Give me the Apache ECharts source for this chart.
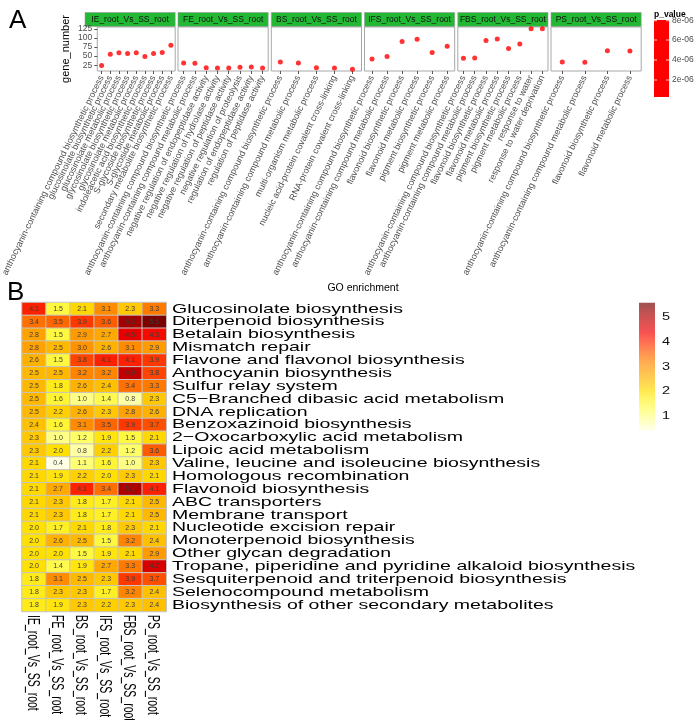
<!DOCTYPE html>
<html><head><meta charset="utf-8">
<script src="https://cdn.jsdelivr.net/npm/echarts@6/dist/echarts.min.js"></script>
<style>html,body{margin:0;padding:0;background:#fff}#c{width:696px;height:720px}</style>
</head><body><div id="c"></div>
<script>
// ---------- Panel A data ----------
const panelNames = ['IE_root_Vs_SS_root','FE_root_Vs_SS_root','BS_root_Vs_SS_root','IFS_root_Vs_SS_root','FBS_root_Vs_SS_root','PS_root_Vs_SS_root'];
const ieTerms = ['anthocyanin-containing compound biosynthetic process','glucosinolate biosynthetic process','glucosinolate metabolic process','glycosinolate biosynthetic process','glycosinolate metabolic process','indoleacetic acid biosynthetic process','S-glycoside biosynthetic process','S-glycoside metabolic process','secondary metabolite biosynthetic process'];
const ieGenes = [24, 55, 59, 57, 59, 49, 57, 60, 80];
const feTerms = ['anthocyanin-containing compound biosynthetic process','anthocyanin-containing compound metabolic process','negative regulation of endopeptidase activity','negative regulation of hydrolase activity','negative regulation of peptidase activity','negative regulation of proteolysis','regulation of endopeptidase activity','regulation of peptidase activity'];
const feGenes = [31, 30, 18, 17, 17, 19, 20, 17];
const bsTerms = ['anthocyanin-containing compound biosynthetic process','anthocyanin-containing compound metabolic process','multi-organism metabolic process','nucleic acid-protein covalent cross-linking','RNA-protein covalent cross-linking'];
const bsGenes = [34, 31, 18, 17, 14];
const ifsTerms = ['anthocyanin-containing compound biosynthetic process','anthocyanin-containing compound metabolic process','flavonoid biosynthetic process','flavonoid metabolic process','pigment biosynthetic process','pigment metabolic process'];
const ifsGenes = [42, 49, 90, 96, 60, 77];
const fbsTerms = ['anthocyanin-containing compound biosynthetic process','anthocyanin-containing compound metabolic process','flavonoid biosynthetic process','flavonoid metabolic process','pigment biosynthetic process','pigment metabolic process','response to water','response to water deprivation'];
const fbsGenes = [44, 45, 93, 97, 71, 83, 125, 125];
const psTerms = ['anthocyanin-containing compound biosynthetic process','anthocyanin-containing compound metabolic process','flavonoid biosynthetic process','flavonoid metabolic process'];
const psGenes = [34, 33, 65, 64];
const geneTicks = [25, 50, 75, 100, 125];
const pTickLabels = ['8e-06','6e-06','4e-06','2e-06'];

// ---------- Panel B data ----------
const heatRows = ['Glucosinolate biosynthesis','Diterpenoid biosynthesis','Betalain biosynthesis','Mismatch repair','Flavone and flavonol biosynthesis','Anthocyanin biosynthesis','Sulfur relay system','C5\u2212Branched dibasic acid metabolism','DNA replication','Benzoxazinoid biosynthesis','2\u2212Oxocarboxylic acid metabolism','Lipoic acid metabolism','Valine, leucine and isoleucine biosynthesis','Homologous recombination','Flavonoid biosynthesis','ABC transporters','Membrane transport','Nucleotide excision repair','Monoterpenoid biosynthesis','Other glycan degradation','Tropane, piperidine and pyridine alkaloid biosynthesis','Sesquiterpenoid and triterpenoid biosynthesis','Selenocompound metabolism','Biosynthesis of other secondary metabolites'];
const ieScores  = [4.1,3.4,2.8,2.8,2.6,2.5,2.5,2.5,2.5,2.4,2.3,2.3,2.1,2.1,2.1,2.1,2.1,2.0,2.0,2.0,2.0,1.8,1.8,1.8];
const feScores  = [1.5,3.5,1.5,2.5,1.5,2.5,1.8,1.6,2.2,1.6,1.0,2.0,0.4,1.9,2.7,2.3,2.3,1.7,2.6,2.0,1.4,3.1,2.3,1.9];
const bsScores  = [2.1,3.9,2.9,3.0,3.8,3.2,2.6,1.0,2.6,3.1,1.2,0.8,1.1,2.2,4.1,1.8,1.8,2.1,2.5,1.5,1.9,2.5,2.3,2.3];
const ifsScores = [3.1,3.6,2.7,2.6,4.1,3.2,2.4,1.4,2.3,3.5,1.9,2.2,1.6,2.0,3.4,1.7,1.7,1.8,1.5,1.9,2.7,2.3,1.7,2.2];
const fbsScores = [2.3,5.2,4.5,3.1,4.1,4.9,3.4,0.8,2.8,3.9,1.5,1.2,1.0,2.3,5.1,2.1,2.1,2.3,3.2,2.1,3.3,3.9,3.2,2.3];
const psScores  = [3.3,5.5,4.3,2.9,3.9,3.8,3.3,2.3,2.6,3.7,2.1,3.6,2.3,2.1,4.1,2.5,2.5,2.1,2.4,2.9,4.7,3.7,2.4,2.4];
const scaleTicks = [1, 2, 3, 4, 5];

// ---------- build ----------
const FONT = '"Liberation Sans", Arial, Helvetica, sans-serif';
const termsA = [ieTerms, feTerms, bsTerms, ifsTerms, fbsTerms, psTerms];
const genesA = [ieGenes, feGenes, bsGenes, ifsGenes, fbsGenes, psGenes];
const scoresB = [ieScores, feScores, bsScores, ifsScores, fbsScores, psScores];
const gLeft = [85, 178, 271.3, 364.5, 457.8, 551];
const gW = 90.2, gTop = 27, gH = 44;
const heatColors = ['#FFFFE6','#FFFFA6','#FFFF66','#FFF533','#FFE000','#FFC000','#FFA200','#FF8500','#FF5C00','#FF2C00','#F20000','#CC0000','#A30000','#6E0000'];
const vMin = 0.4, vMax = 5.6;

const grids = [], xAxes = [], yAxes = [], series = [];
for (let i = 0; i < 6; i++) {
  grids.push({left: gLeft[i], top: gTop, width: gW, height: gH, show: true, borderColor: '#a8a8a8', borderWidth: 1, backgroundColor: '#fff'});
  xAxes.push({gridIndex: i, type: 'category', data: termsA[i],
    axisLine: {show: false}, splitLine: {show: false},
    axisTick: {show: true, alignWithLabel: true, length: 3, lineStyle: {color: '#555'}},
    axisLabel: {rotate: 64, fontSize: 9, color: '#4d4d4d', interval: 0, margin: 5, fontFamily: FONT}});
  yAxes.push({gridIndex: i, type: 'value', min: 9, max: 130,
    axisLine: {show: false}, splitLine: {show: false},
    axisTick: {show: i === 0, length: 3, lineStyle: {color: '#555'}, customValues: geneTicks},
    axisLabel: {show: i === 0, fontSize: 8.5, color: '#4d4d4d', margin: 5, fontFamily: FONT, customValues: geneTicks},
    name: i === 0 ? 'gene_number' : '', nameLocation: 'middle', nameGap: 26, nameRotate: 90,
    nameTextStyle: {fontSize: 11, color: '#000', fontFamily: FONT}});
  series.push({type: 'scatter', xAxisIndex: i, yAxisIndex: i, data: genesA[i], symbolSize: 5,
    itemStyle: {color: '#ff0000'}, silent: true});
}
// heatmap grid
grids.push({left: 22, top: 302.5, width: 144.3, height: 309});
xAxes.push({gridIndex: 6, type: 'category', data: panelNames, axisLine: {show: false}, axisTick: {show: false}, axisLabel: {show: false}, splitLine: {show: false}});
yAxes.push({gridIndex: 6, type: 'category', data: heatRows, inverse: true, axisLine: {show: false}, axisTick: {show: false}, axisLabel: {show: false}, splitLine: {show: false}});
const heatData = [];
for (let c = 0; c < 6; c++) for (let r = 0; r < heatRows.length; r++) heatData.push([c, r, scoresB[c][r]]);
series.push({type: 'heatmap', xAxisIndex: 6, yAxisIndex: 6, data: heatData,
  itemStyle: {borderColor: '#c4c4c4', borderWidth: 1},
  label: {show: true, fontSize: 7, color: '#3c3c3c', fontFamily: FONT, formatter: p => p.value[2].toFixed(1)},
  emphasis: {disabled: true}, silent: true});

const chart = echarts.init(document.getElementById('c'), null, {renderer: 'canvas'});
chart.setOption({
  animation: false,
  backgroundColor: '#fff',
  grid: grids, xAxis: xAxes, yAxis: yAxes, series: series,
  visualMap: {type: 'continuous', min: vMin, max: vMax, seriesIndex: 6, show: false, dimension: 2, inRange: {color: heatColors}}
});

// ---------- decorations & labels (placed via the library's coordinate conversion) ----------
const g = [];
g.push({type: 'text', x: 9, y: 21, style: {text: 'A', font: '26px ' + FONT, fill: '#000', align: 'left', verticalAlign: 'middle'}});
g.push({type: 'text', x: 7, y: 293, style: {text: 'B', font: '26px ' + FONT, fill: '#000', align: 'left', verticalAlign: 'middle'}});
for (let i = 0; i < 6; i++) {
  g.push({type: 'rect', shape: {x: gLeft[i], y: 12.5, width: gW, height: 14}, style: {fill: '#22B833', stroke: '#9a9a9a', lineWidth: 0.6}});
  g.push({type: 'text', x: gLeft[i] + gW / 2, y: 19.8, style: {text: panelNames[i], font: '8.5px ' + FONT, fill: '#111', align: 'center', verticalAlign: 'middle'}});
}
g.push({type: 'text', x: 363, y: 288, style: {text: 'GO enrichment', font: '10.5px ' + FONT, fill: '#000', align: 'center', verticalAlign: 'middle'}});
// p_value legend
g.push({type: 'text', x: 654, y: 15, style: {text: 'p_value', font: 'bold 8.5px ' + FONT, fill: '#000', align: 'left', verticalAlign: 'middle'}});
g.push({type: 'rect', shape: {x: 654, y: 20, width: 15, height: 77}, style: {fill: '#ff0000'}});
const pY = [20.7, 40, 60, 80];
for (let k = 0; k < 4; k++) {
  g.push({type: 'line', shape: {x1: 654, y1: pY[k], x2: 657, y2: pY[k]}, style: {stroke: '#fff', lineWidth: 0.8}});
  g.push({type: 'line', shape: {x1: 666, y1: pY[k], x2: 669, y2: pY[k]}, style: {stroke: '#fff', lineWidth: 0.8}});
  g.push({type: 'text', x: 672, y: pY[k], style: {text: pTickLabels[k], font: '8.5px ' + FONT, fill: '#4d4d4d', align: 'left', verticalAlign: 'middle'}});
}
// heatmap row labels
for (let r = 0; r < heatRows.length; r++) {
  const p = chart.convertToPixel({gridIndex: 6}, [0, r]);
  g.push({type: 'text', x: 172, y: p[1], scaleX: 1.5, style: {text: heatRows[r], font: '13px ' + FONT, fill: '#000', align: 'left', verticalAlign: 'middle'}});
}
// heatmap column labels
for (let c = 0; c < panelNames.length; c++) {
  const p = chart.convertToPixel({gridIndex: 6}, [c, 0]);
  g.push({type: 'text', x: p[0] - 2, y: 615, rotation: -Math.PI / 2, scaleY: 1.5, style: {text: panelNames[c], font: '10.5px ' + FONT, fill: '#000', align: 'left', verticalAlign: 'middle'}});
}
// heatmap color scale
const barTop = 302.7, barH = 128.3, barX = 639;
const stops = heatColors.map((col, k) => ({offset: k / (heatColors.length - 1), color: col}));
g.push({type: 'rect', shape: {x: barX, y: barTop, width: 16, height: barH}, style: {fill: new echarts.graphic.LinearGradient(0, 1, 0, 0, stops), opacity: 0.68}});
for (const t of scaleTicks) {
  const y = barTop + barH - (t - vMin) / (vMax - vMin) * barH;
  g.push({type: 'text', x: 662, y: y, scaleX: 1.45, style: {text: String(t), font: '10px ' + FONT, fill: '#111', align: 'left', verticalAlign: 'middle'}});
}
chart.setOption({graphic: g});
</script></body></html>
